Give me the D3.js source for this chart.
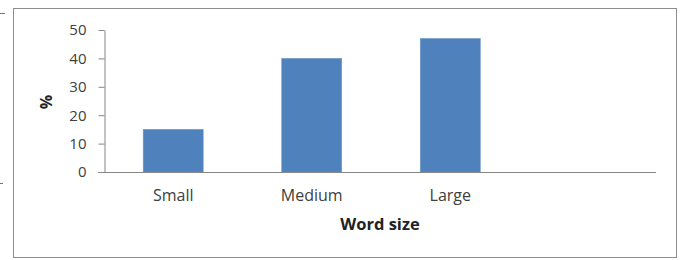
<!DOCTYPE html>
<html>
<head>
<meta charset="utf-8">
<script src="https://cdn.jsdelivr.net/npm/d3@7"></script>
<style>
  body { margin: 0; background: #fff; }
  svg { display: block; }
  text { font-family: "Open Sans", "Noto Sans", sans-serif; fill: #404040; }
</style>
</head>
<body>
<svg></svg>
<script>
const categories = ['Small', 'Medium', 'Large', ''];
const values = [15, 40, 47, null];
const yTicks = [0, 10, 20, 30, 40, 50];

const width = 685;
const height = 260;
const svg = d3.select('svg').attr('width', width).attr('height', height);

// chart frame
svg.append('rect')
    .attr('x', 13.5).attr('y', 8.5)
    .attr('width', 663).attr('height', 249)
    .attr('fill', '#fff')
    .attr('stroke', '#8e8e8e');

// little stray marks on the left edge
svg.append('line').attr('x1', 0).attr('x2', 5).attr('y1', 13.5).attr('y2', 13.5).attr('stroke', '#777');
svg.append('line').attr('x1', 0).attr('x2', 3).attr('y1', 183.5).attr('y2', 183.5).attr('stroke', '#777');

let x = d3.scaleBand().domain(categories).range([104, 658]).paddingInner(0.567).paddingOuter(0.283);
let y = d3.scaleLinear().domain([0, 50]).range([172, 30]);

// bars
svg.append('g')
    .selectAll('rect')
    .data(values.map((v, i) => ({ cat: categories[i], v })).filter(d => d.v != null))
    .enter()
    .append('rect')
    .attr('x', d => x(d.cat))
    .attr('y', d => y(d.v))
    .attr('width', x.bandwidth())
    .attr('height', d => y(0) - y(d.v))
    .attr('fill', '#4f81bd')
    .attr('stroke', '#6c96c8')
    .attr('stroke-width', 0.6);

// y axis
let yAxis = d3.axisLeft(y).tickValues(yTicks).tickSize(6).tickPadding(12).tickSizeOuter(0);
let yLayer = svg.append('g').attr('transform', 'translate(104.5, 0)').call(yAxis);
yLayer.select('.domain').attr('stroke', '#868686');
yLayer.selectAll('.tick line').attr('stroke', '#868686');
yLayer.selectAll('.tick text').attr('font-size', 15).style('fill', '#404040');

// x axis
let xLayer = svg.append('g').attr('transform', 'translate(0, 172.5)');
xLayer.append('line')
    .attr('x1', 98).attr('x2', 656)
    .attr('stroke', '#868686');
xLayer.selectAll('text')
    .data(categories)
    .enter()
    .append('text')
    .attr('x', d => x(d) + x.bandwidth() / 2)
    .attr('y', 28.5)
    .attr('text-anchor', 'middle')
    .attr('font-size', 16)
    .text(d => d);

// axis titles
svg.append('text')
    .attr('x', 380).attr('y', 229.5)
    .attr('text-anchor', 'middle')
    .attr('font-size', 16.5)
    .attr('font-weight', 'bold')
    .style('fill', '#222')
    .text('Word size');

svg.append('text')
    .attr('transform', 'translate(52, 102) rotate(-90)')
    .attr('text-anchor', 'middle')
    .attr('font-size', 16)
    .attr('font-weight', 'bold')
    .style('fill', '#222')
    .text('%');
</script>
</body>
</html>
